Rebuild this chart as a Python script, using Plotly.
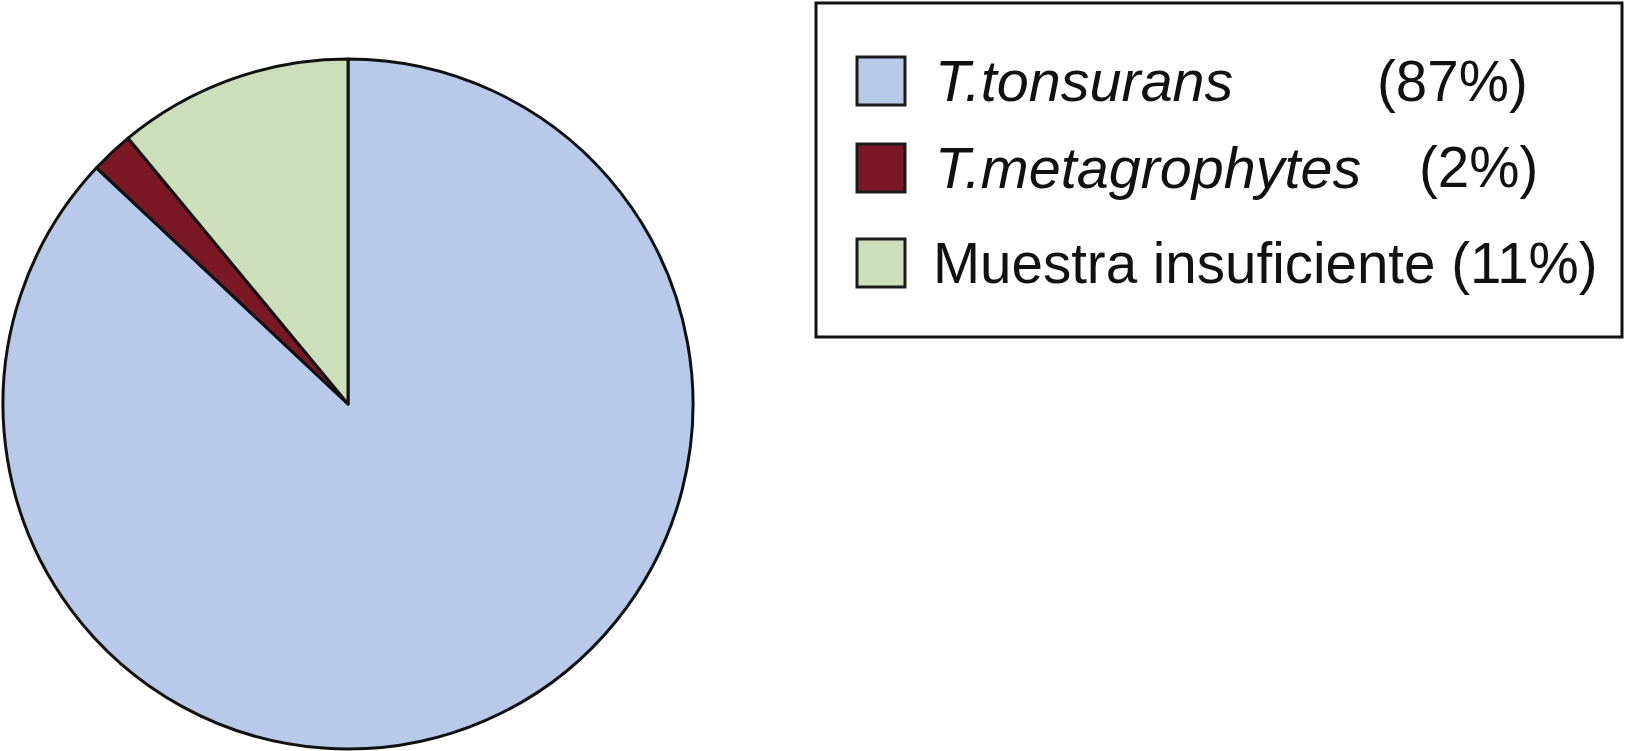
import plotly.graph_objects as go

labels = ["T.tonsurans", "T.metagrophytes", "Muestra insuficiente"]
values = [87, 2, 11]
colors = ["#B9C9E9", "#7A1826", "#CCDFBA"]
italic = [True, True, False]

W, H = 1625, 751


def px(x):
    return x / W


def py(y):
    return 1 - y / H


fig = go.Figure(
    data=[
        go.Pie(
            labels=labels,
            values=values,
            sort=False,
            direction="clockwise",
            rotation=0,
            marker=dict(colors=colors, line=dict(color="#111111", width=3)),
            textinfo="none",
            hoverinfo="label+percent",
            domain=dict(x=[px(2), px(694)], y=[py(749), py(59)]),
        )
    ]
)

# custom legend box, sized like the original
shapes = [
    dict(type="rect", xref="paper", yref="paper",
         x0=px(816), x1=px(1622), y0=py(337), y1=py(3),
         line=dict(color="#111111", width=3), fillcolor="rgba(0,0,0,0)")
]
annotations = []
row_y = [81, 168, 263]
pct_x = [1375, 1417, None]
for i, (lab, val) in enumerate(zip(labels, values)):
    yc = row_y[i]
    shapes.append(dict(type="rect", xref="paper", yref="paper",
                       x0=px(857), x1=px(905), y0=py(yc + 24), y1=py(yc - 24),
                       line=dict(color="#1a1a1a", width=3), fillcolor=colors[i]))
    size = 57.5 if italic[i] else 56.5
    name = f"<i>{lab}</i>" if italic[i] else lab
    if pct_x[i] is None:
        annotations.append(dict(text=f"{name} ({val}%)", x=px(931), y=py(yc),
                                xref="paper", yref="paper", xanchor="left",
                                yanchor="middle", showarrow=False,
                                font=dict(size=size)))
    else:
        annotations.append(dict(text=name, x=px(933), y=py(yc), xref="paper",
                                yref="paper", xanchor="left", yanchor="middle",
                                showarrow=False, font=dict(size=size)))
        annotations.append(dict(text=f"({val}%)", x=px(pct_x[i]), y=py(yc),
                                xref="paper", yref="paper", xanchor="left",
                                yanchor="middle", showarrow=False,
                                font=dict(size=56.5)))

fig.update_layout(
    width=W,
    height=H,
    margin=dict(l=0, r=0, t=0, b=0),
    paper_bgcolor="white",
    plot_bgcolor="white",
    showlegend=False,
    shapes=shapes,
    annotations=annotations,
    font=dict(family="Liberation Sans, Arial, sans-serif", size=56.5, color="#111111"),
)

fig.write_html("out.html", config={"displayModeBar": False},
               post_script="document.body.style.margin='0';")
